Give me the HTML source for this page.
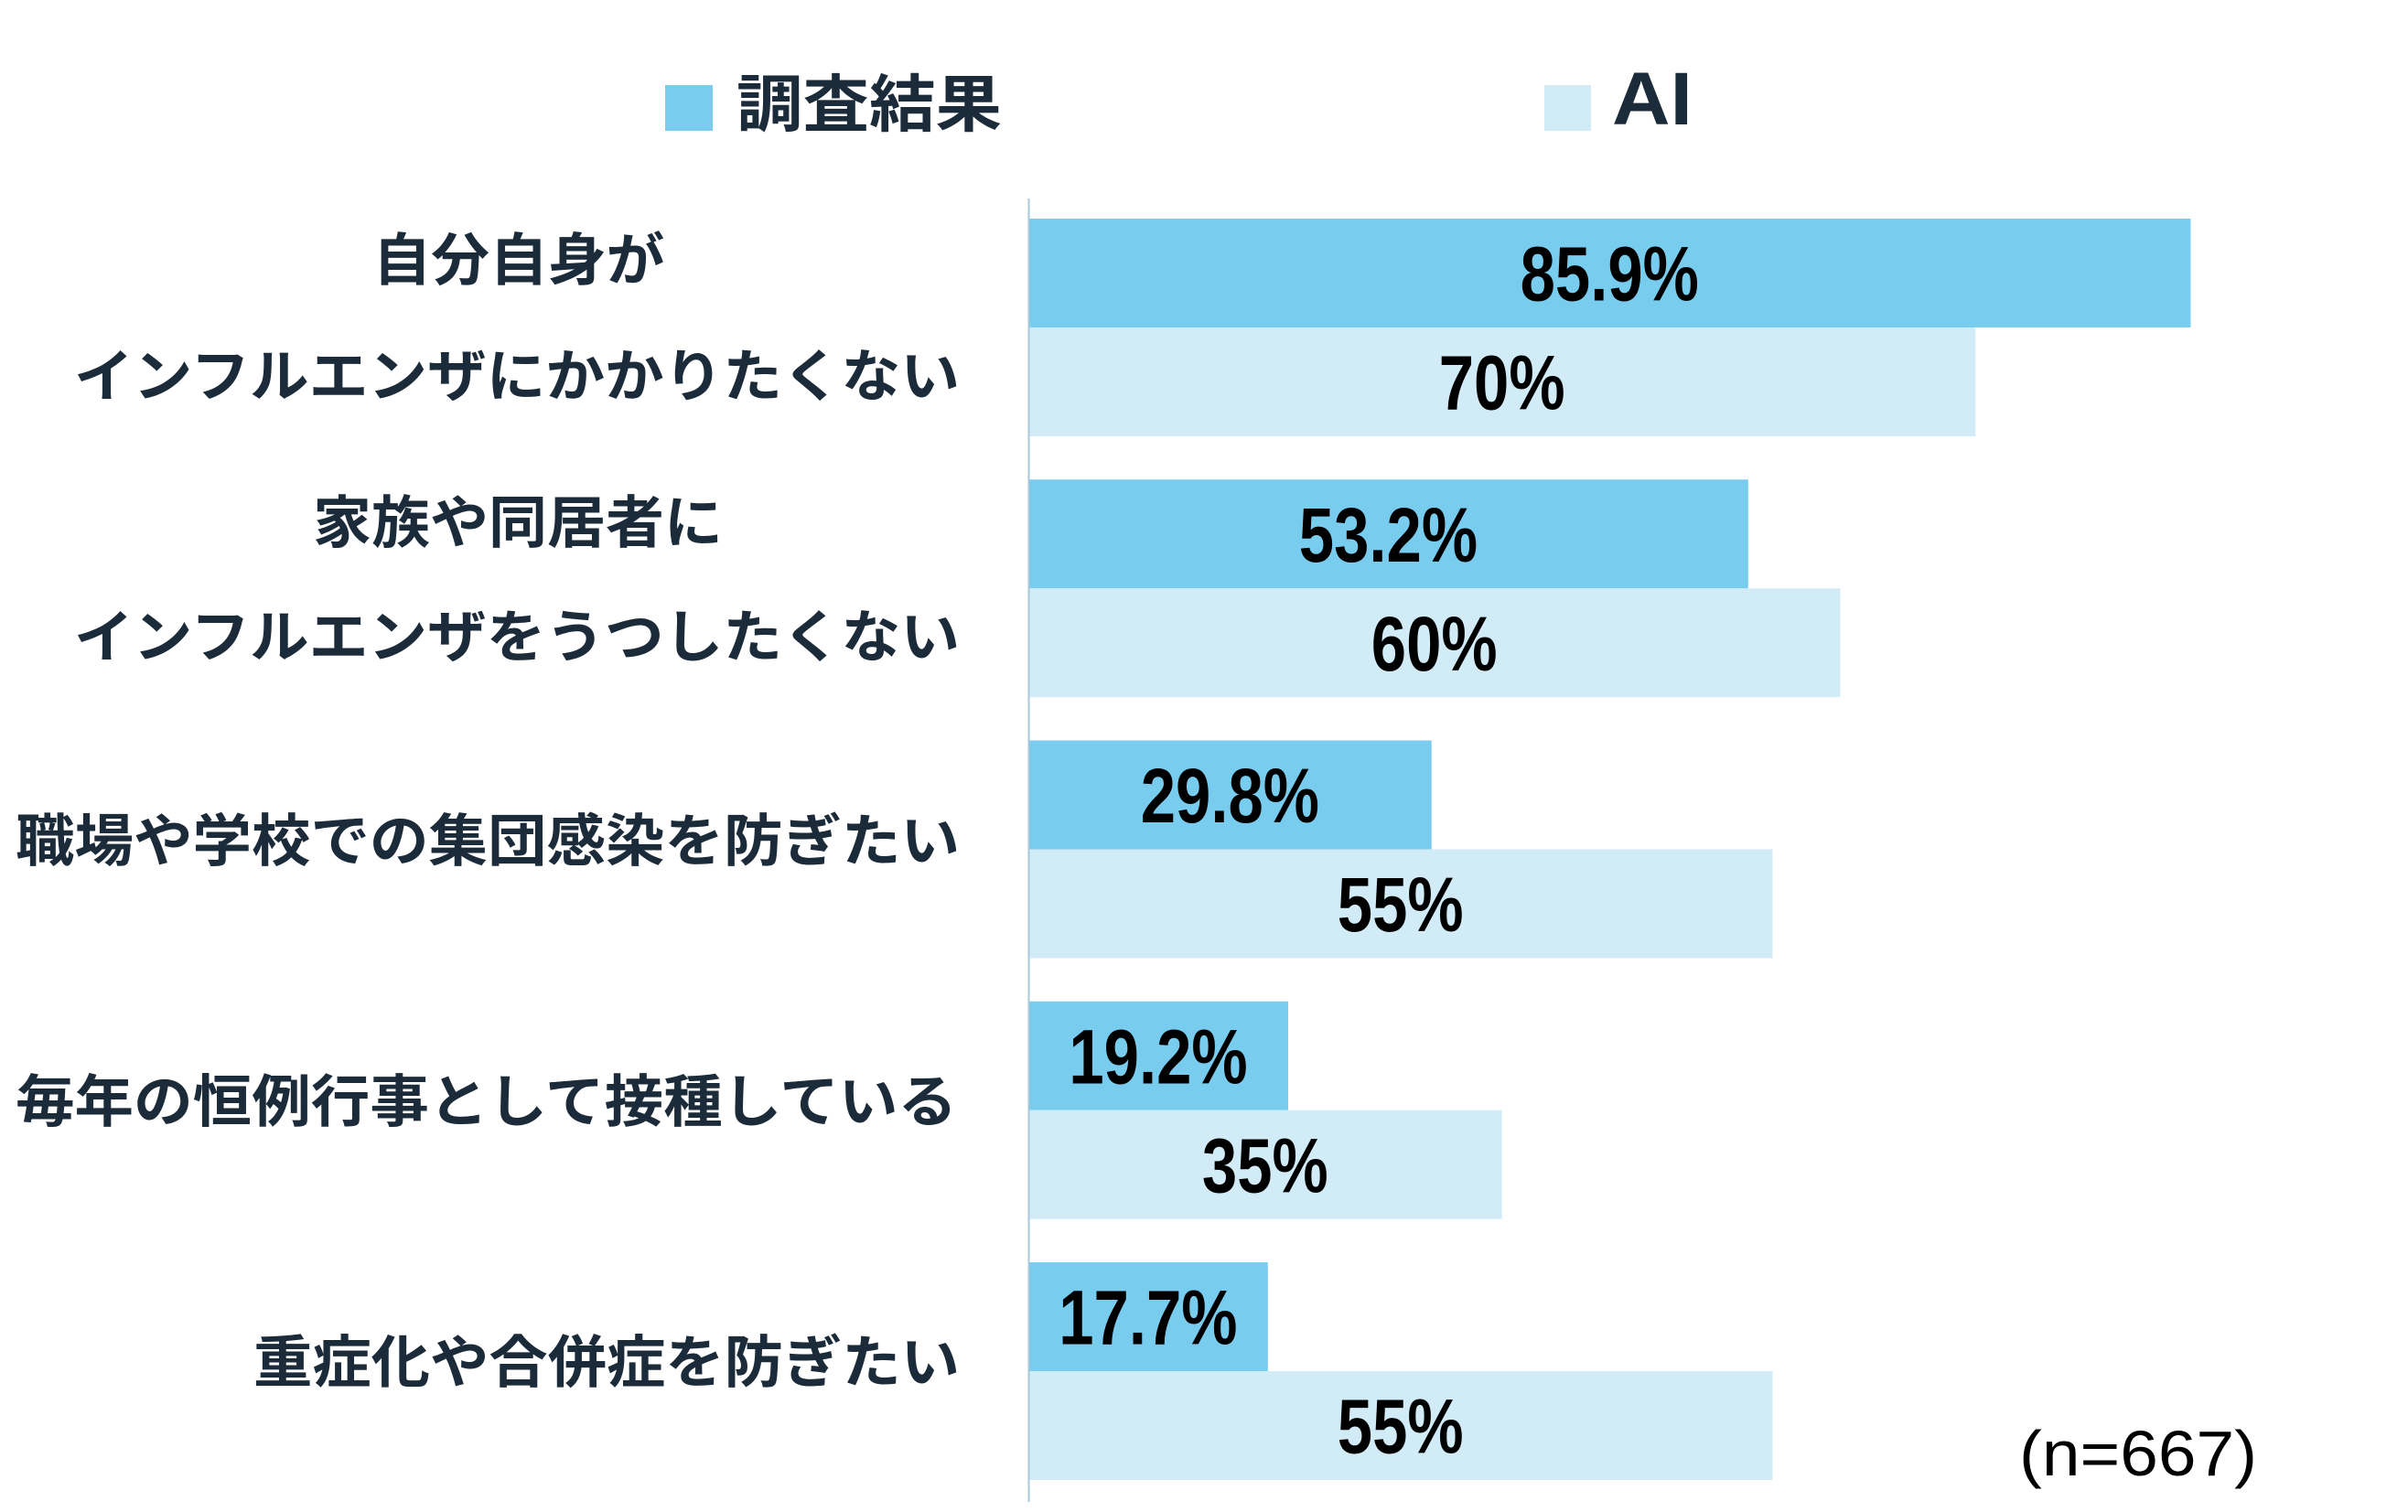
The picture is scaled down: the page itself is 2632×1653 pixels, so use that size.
<!DOCTYPE html>
<html><head><meta charset="utf-8"><style>
html,body{margin:0;padding:0;background:#fff;}
svg{display:block;}
</style></head><body>
<svg id="chart" width="2632" height="1653" viewBox="0 0 2632 1653" xmlns="http://www.w3.org/2000/svg">
<g>
 <rect x="727" y="93" width="52" height="50" fill="#78cdef"/>
 <text x="805" y="138" font-family="'Liberation Sans','Noto Sans CJK JP',sans-serif" font-weight="bold" font-size="68" fill="#1c2b3a" textLength="290" lengthAdjust="spacingAndGlyphs">調査結果</text>
 <rect x="1688" y="93" width="51" height="50" fill="#d2ecf7"/>
 <text x="1762" y="136" font-family="'Liberation Sans',sans-serif" font-weight="bold" font-size="82" fill="#1c2b3a" textLength="88" lengthAdjust="spacingAndGlyphs">AI</text>
</g>
<g id="bars"></g>
<g id="labels"></g>
<line x1="1124.5" y1="217" x2="1124.5" y2="1642" stroke="#a9c8dc" stroke-width="2"/>
<text x="2207" y="1613" font-family="'Liberation Sans',sans-serif" font-size="70" fill="#000" textLength="260" lengthAdjust="spacingAndGlyphs">(n=667)</text>
</svg>
<script>
const categories = ["自分自身がインフルエンザにかかりたくない","家族や同居者にインフルエンザをうつしたくない","職場や学校での集団感染を防ぎたい","毎年の恒例行事として接種している","重症化や合併症を防ぎたい"];
const surveyValues = [85.9, 53.2, 29.8, 19.2, 17.7];
const aiValues = [70, 60, 55, 35, 55];
const surveyLabels = ["85.9%","53.2%","29.8%","19.2%","17.7%"];
const aiLabels = ["70%","60%","55%","35%","55%"];

const NS = "http://www.w3.org/2000/svg";
const x0 = 1124, pxPerPct = 14.79;
const groupTop0 = 239, groupStep = 285.25, barH = 119;
function xScale(v){ return x0 + v * pxPerPct; }
function groupTop(i){ return groupTop0 + i * groupStep; }
const bars = document.getElementById('bars');
const labels = document.getElementById('labels');

function addBar(i, v, lab, series, color, yTop){
  const r = document.createElementNS(NS,'rect');
  
  
  r.setAttribute('x', x0);
  r.setAttribute('y', yTop);
  r.setAttribute('width', xScale(v) - x0);
  r.setAttribute('height', barH);
  r.setAttribute('fill', color);
  bars.appendChild(r);
  const cx = (x0 + xScale(v)) / 2, cy = yTop + barH/2 + 30;
  const t = document.createElementNS(NS,'text');
  
  
  t.setAttribute('transform', 'translate(' + cx + ',' + cy + ') scale(0.82,1)');
  t.setAttribute('text-anchor', 'middle');
  t.setAttribute('font-family', "'Liberation Sans',sans-serif");
  t.setAttribute('font-weight', 'bold');
  t.setAttribute('font-size', '84');
  t.setAttribute('fill', '#000');
  t.textContent = lab;
  bars.appendChild(t);
}
for (let i = 0; i < categories.length; i++){
  const gt = groupTop(i);
  addBar(i, surveyValues[i], surveyLabels[i], 'survey', '#78cdef', gt);
  addBar(i, aiValues[i], aiLabels[i], 'ai', '#d2ecf7', gt + barH);
}

// category label lines (text, anchor, x, y, width)
const labelLines = [
  ["自分自身が","middle",567,306,319],
  ["インフルエンザにかかりたくない","end",1049,433,968],
  ["家族や同居者に","middle",566,593,448],
  ["インフルエンザをうつしたくない","end",1049,718,968],
  ["職場や学校での集団感染を防ぎたい","end",1049,941,1032],
  ["毎年の恒例行事として接種している","end",1046,1226,1029],
  ["重症化や合併症を防ぎたい","end",1049,1511,772]
];
labelLines.forEach(function(l, k){
  const t = document.createElementNS(NS,'text');
  
  
  t.setAttribute('x', l[2]);
  t.setAttribute('y', l[3]);
  t.setAttribute('text-anchor', l[1]);
  t.setAttribute('font-family', "'Liberation Sans','Noto Sans CJK JP',sans-serif");
  t.setAttribute('font-weight', 'bold');
  t.setAttribute('font-size', '62');
  t.setAttribute('fill', '#1c2b3a');
  t.setAttribute('textLength', l[4]);
  t.setAttribute('lengthAdjust', 'spacingAndGlyphs');
  t.textContent = l[0];
  labels.appendChild(t);
});
</script>
</body></html>
